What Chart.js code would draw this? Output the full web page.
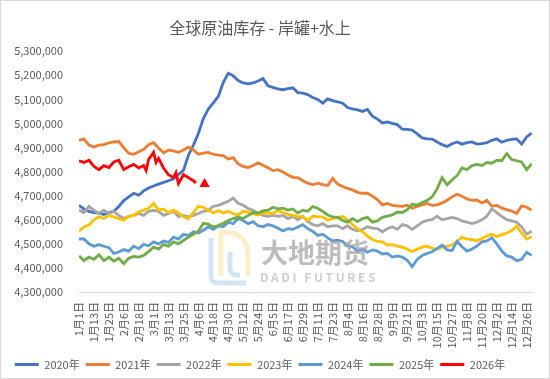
<!DOCTYPE html>
<html><head><meta charset="utf-8">
<script src="https://cdn.jsdelivr.net/npm/chart.js@4/dist/chart.umd.min.js"></script>
<style>html,body{margin:0;padding:0;background:#fff;} canvas{display:block;}</style>
</head><body>
<canvas id="c" width="550" height="379"></canvas>
<script>
const chartTitle = '全球原油库存 - 岸罐+水上';
const tickLabels = ['1月1日','1月13日','1月25日','2月6日','2月18日','3月1日','3月13日','3月25日','4月6日','4月18日','4月30日','5月12日','5月24日','6月5日','6月17日','6月29日','7月11日','7月23日','8月4日','8月16日','8月28日','9月9日','9月21日','10月3日','10月15日','10月27日','11月8日','11月20日','12月2日','12月14日','12月26日'];
const seriesNames = ['2020年','2021年','2022年','2023年','2024年','2025年','2026年'];
const seriesColors = ['#4472C4','#ED7D31','#A5A5A5','#FFC000','#5B9BD5','#70AD47','#FF0000'];

// day-of-year positions of the readings (every 4th day)
const days = [];
for (let d = 0; d <= 364; d += 4) days.push(d);

// values in thousand barrels
const v2020 = [4660,4645,4635,4630,4628,4622,4630,4635,4655,4680,
  4695,4710,4702,4720,4732,4740,4748,4755,4762,4770,
  4788,4805,4868,4910,4958,5020,5060,5085,5112,5170,
  5208,5198,5178,5168,5164,5168,5176,5186,5156,5150,
  5143,5140,5145,5148,5128,5126,5120,5108,5100,5084,
  5102,5095,5090,5084,5066,5060,5056,5050,5058,5030,
  5018,5002,5006,5000,4995,4976,4975,4972,4957,4940,
  4936,4935,4923,4912,4904,4916,4923,4914,4920,4923,
  4914,4916,4920,4930,4936,4922,4930,4934,4936,4914,
  4944,4960];
const v2021 = [4930,4935,4910,4902,4910,4912,4919,4923,4925,4900,
  4876,4872,4882,4892,4912,4920,4898,4878,4889,4886,
  4880,4890,4902,4890,4872,4877,4880,4872,4868,4866,
  4852,4858,4832,4822,4817,4825,4836,4826,4816,4804,
  4808,4798,4786,4776,4775,4762,4752,4745,4752,4746,
  4742,4772,4748,4738,4730,4724,4714,4710,4710,4698,
  4684,4662,4668,4660,4658,4656,4660,4648,4655,4662,
  4668,4660,4662,4670,4681,4695,4706,4698,4686,4681,
  4682,4670,4681,4656,4660,4648,4642,4636,4626,4658,
  4652,4640];
const v2022 = [4640,4630,4656,4639,4626,4639,4626,4635,4618,4605,
  4614,4618,4626,4618,4635,4639,4635,4618,4626,4635,
  4614,4618,4612,4618,4626,4635,4639,4656,4660,4668,
  4677,4690,4668,4660,4647,4639,4626,4618,4614,4618,
  4614,4618,4605,4614,4600,4614,4592,4580,4575,4584,
  4571,4575,4575,4563,4575,4560,4554,4560,4571,4565,
  4563,4550,4563,4571,4560,4580,4575,4560,4575,4590,
  4597,4600,4615,4600,4605,4610,4605,4595,4590,4584,
  4590,4600,4615,4645,4630,4614,4600,4595,4590,4570,
  4540,4552];
const v2023 = [4552,4570,4578,4600,4612,4605,4618,4612,4605,4598,
  4614,4618,4632,4640,4648,4668,4640,4645,4630,4640,
  4628,4612,4605,4630,4656,4652,4640,4628,4638,4628,
  4635,4625,4620,4635,4632,4625,4620,4630,4628,4626,
  4638,4630,4622,4618,4614,4612,4597,4615,4612,4612,
  4598,4605,4610,4614,4600,4580,4562,4550,4532,4518,
  4510,4508,4495,4497,4490,4486,4478,4468,4478,4486,
  4490,4482,4478,4486,4490,4495,4510,4528,4520,4518,
  4512,4522,4532,4540,4530,4538,4545,4555,4572,4545,
  4520,4530];
const v2024 = [4520,4520,4500,4490,4497,4490,4484,4460,4466,4476,
  4470,4490,4480,4498,4492,4508,4500,4512,4506,4528,
  4520,4540,4534,4550,4545,4556,4571,4560,4575,4571,
  4590,4584,4605,4597,4584,4592,4575,4571,4580,4575,
  4565,4554,4563,4560,4570,4580,4563,4552,4535,4540,
  4525,4512,4515,4510,4491,4488,4470,4478,4465,4475,
  4470,4458,4460,4445,4450,4445,4432,4405,4435,4452,
  4460,4467,4480,4495,4475,4472,4510,4488,4470,4478,
  4491,4508,4512,4525,4500,4470,4450,4445,4430,4436,
  4465,4452];
const v2025 = [4450,4430,4445,4436,4455,4430,4444,4428,4440,4418,
  4440,4448,4445,4452,4468,4486,4478,4498,4490,4508,
  4500,4514,4528,4540,4552,4585,4582,4570,4576,4585,
  4597,4605,4612,4605,4618,4630,4628,4637,4640,4652,
  4645,4648,4640,4645,4628,4640,4635,4655,4648,4635,
  4620,4612,4610,4597,4590,4605,4592,4605,4610,4590,
  4595,4610,4615,4620,4632,4630,4642,4665,4660,4672,
  4680,4695,4728,4775,4745,4765,4783,4815,4808,4825,
  4830,4825,4838,4835,4847,4845,4875,4850,4845,4840,
  4808,4832];
const days2026 = [0,4,8,12,16,20,24,28,32,36,40,44,48,52,54,56,60,62,64,68,72,76,78,80,84,88,92,94,98,101];
const v2026 = [4845,4838,4847,4822,4808,4825,4817,4840,4847,4808,4820,4830,4815,4825,4804,4851,4880,4838,4855,4815,4787,4775,4796,4750,4787,4775,4762,4753,null,4749];

const allValues = [v2020, v2021, v2022, v2023, v2024, v2025];
const toPoints = (xs, vs) => xs.map((x, i) => ({x: x, y: vs[i] === null ? null : vs[i] * 1000}));

const datasets = allValues.map((vals, i) => ({
  label: seriesNames[i],
  data: toPoints(days, vals),
  borderColor: seriesColors[i],
  backgroundColor: seriesColors[i],
  borderWidth: 2.8,
  pointRadius: 0,
  tension: 0,
  order: 7 - i
}));
datasets.push({
  label: seriesNames[6],
  data: toPoints(days2026, v2026),
  borderColor: seriesColors[6],
  backgroundColor: seriesColors[6],
  borderWidth: 2.8,
  pointRadius: days2026.map((d, i) => i === days2026.length - 1 ? 6 : 0),
  pointStyle: 'triangle',
  pointBorderWidth: 0,
  pointBackgroundColor: seriesColors[6],
  tension: 0,
  spanGaps: false,
  order: 1
});

const frame = {
  id: 'frame',
  beforeDraw(chart) {
    const c = chart.ctx;
    c.save();
    c.fillStyle = '#fff';
    c.fillRect(0, 0, chart.width, chart.height);
    c.restore();
  },
  afterDraw(chart) {
    const c = chart.ctx;
    c.save();
    c.strokeStyle = '#D9D9D9';
    c.lineWidth = 1;
    c.strokeRect(0.5, 0.5, chart.width - 1, chart.height - 1);
    c.restore();
  }
};
const watermark = {
  id: 'watermark',
  afterDatasetsDraw(chart) {
    const c = chart.ctx;
    c.save();
    c.globalAlpha = 0.45;
    c.lineWidth = 5;
    c.strokeStyle = '#9DC3E6';
    c.beginPath();
    c.moveTo(211, 238); c.lineTo(211, 276);
    c.quadraticCurveTo(211, 283, 218, 283); c.lineTo(246, 283);
    c.stroke();
    c.beginPath();
    c.moveTo(230, 252); c.lineTo(230, 268); c.quadraticCurveTo(230, 275, 237, 275); c.lineTo(240, 275);
    c.stroke();
    c.strokeStyle = '#F4DC8A';
    c.beginPath();
    c.moveTo(221, 276); c.lineTo(221, 232);
    c.quadraticCurveTo(248, 232, 248, 255); c.lineTo(248, 276);
    c.stroke();
    c.globalAlpha = 0.75;
    c.fillStyle = '#A6A6A6';
    c.textBaseline = 'middle';
    c.font = 'bold 27px "Noto Sans CJK SC"';
    c.fillText('大地期货', 261, 253);
    c.globalAlpha = 0.55;
    c.font = 'bold 12px "Noto Sans CJK SC"';
    c.letterSpacing = '2.6px';
    c.fillText('DADI FUTURES', 260, 277);
    c.restore();
  }
};

Chart.defaults.font.family = '"Noto Sans CJK SC", "Noto Sans", sans-serif';
Chart.defaults.font.size = 11;
Chart.defaults.color = '#595959';

new Chart(document.getElementById('c'), {
  type: 'line',
  data: { datasets: datasets },
  plugins: [frame, watermark],
  options: {
    responsive: false,
    animation: false,
    devicePixelRatio: 1,
    layout: { padding: { left: -18, right: 12, top: 0, bottom: -1 } },
    plugins: {
      title: { display: true, text: chartTitle, color: '#595959', font: { size: 16, weight: 'normal' }, padding: { top: 18, bottom: 14 } },
      legend: {
        position: 'bottom',
        labels: {
          boxWidth: 24, boxHeight: 3, padding: 6, color: '#595959', font: { size: 11 },
          sort: (a, b) => a.datasetIndex - b.datasetIndex,
          generateLabels(chart) {
            const items = Chart.defaults.plugins.legend.labels.generateLabels(chart);
            items.forEach(it => { it.lineWidth = 0; it.fillStyle = seriesColors[it.datasetIndex]; });
            return items;
          }
        }
      },
      tooltip: { enabled: false }
    },
    scales: {
      x: {
        type: 'linear', min: 0, max: 365,
        grid: { display: false, drawTicks: false },
        border: { display: true, color: '#D9D9D9', width: 1 },
        ticks: {
          stepSize: 12, autoSkip: false, includeBounds: false, minRotation: 90, maxRotation: 90, padding: 10,
          color: '#595959', font: { size: 11 },
          callback: (v) => (v % 12 === 0 ? tickLabels[v / 12] : '')
        },
        afterFit(s) { s.height = 61; }
      },
      y: {
        min: 4300000, max: 5300000,
        grid: { display: false, drawTicks: false },
        border: { display: false },
        ticks: { stepSize: 100000, padding: 16, color: '#595959', font: { size: 11 }, callback: (v) => v.toLocaleString('en-US') },
        afterFit(s) { s.width = 97; }
      }
    }
  }
});
</script>
</body></html>
